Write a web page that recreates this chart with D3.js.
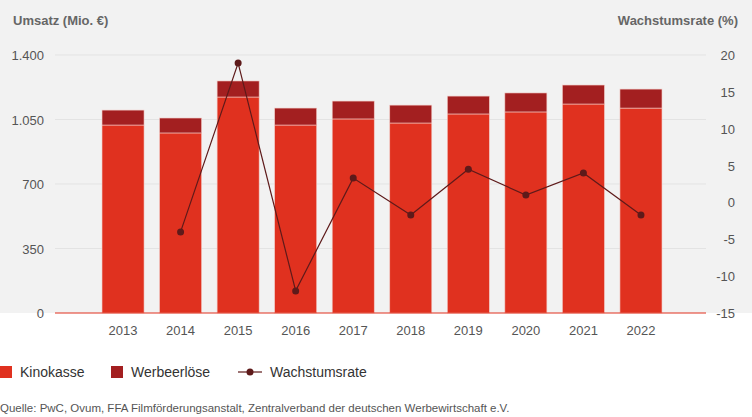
<!DOCTYPE html>
<html><head><meta charset="utf-8">
<script src="https://cdn.jsdelivr.net/npm/d3@7"></script>
<style>body{margin:0;background:#fff;font-family:Arial,"Liberation Sans",sans-serif}</style>
</head><body><div id="chart"></div>
<script>
// Daten
const years = ["2013","2014","2015","2016","2017","2018","2019","2020","2021","2022"];
const kinokasse = [1020, 977, 1172, 1020, 1053, 1031, 1080, 1091, 1134, 1112];
const werbung = [81, 81, 87, 92, 97, 97, 97, 103, 103, 103];
const wachstum = [null, -4.0, 18.9, -12.0, 3.3, -1.7, 4.5, 1.0, 4.0, -1.7];
const leftTicks = [0, 350, 700, 1050, 1400];
const rightTicks = [-15, -10, -5, 0, 5, 10, 15, 20];

const W = 752, H = 417;
const svg = d3.select("#chart").append("svg").attr("width", W).attr("height", H);
const fmt = d3.formatLocale({decimal: ",", thousands: ".", grouping: [3], currency: ["", "€"]}).format(",");

svg.append("rect").attr("width", W).attr("height", 313).attr("fill", "#f2f2f2");

const x = d3.scaleBand().domain(years).range([94.25, 669.75]).paddingInner(0.27).paddingOuter(0.135);
const y = d3.scaleLinear().domain([0, 1400]).range([313, 55]);
const y2 = d3.scaleLinear().domain([-15, 20]).range([313, 55]);

// Gitter
svg.append("g").selectAll("line").data(leftTicks.slice(1)).join("line")
  .attr("x1", 55).attr("x2", 706).attr("y1", d => y(d)).attr("y2", d => y(d))
  .attr("stroke", "#e3e3e3");

svg.append("g").selectAll("text").data(leftTicks).join("text")
  .attr("x", 44).attr("y", d => y(d) + 5).attr("text-anchor", "end")
  .attr("font-size", 13).attr("fill", "#555").text(d => fmt(d));
svg.append("g").selectAll("text").data(rightTicks).join("text")
  .attr("x", 735).attr("y", d => y2(d) + 5).attr("text-anchor", "end")
  .attr("font-size", 13).attr("fill", "#555").text(d => d);

svg.append("text").attr("x", 13).attr("y", 25).attr("font-size", 13).attr("font-weight", "bold")
  .attr("fill", "#666").text("Umsatz (Mio. €)");
svg.append("text").attr("x", 738).attr("y", 25).attr("text-anchor", "end").attr("font-size", 13)
  .attr("font-weight", "bold").attr("fill", "#666").text("Wachstumsrate (%)");

// Balken
const bars = svg.append("g");
years.forEach((yr, i) => {
  bars.append("rect").attr("x", x(yr)).attr("width", x.bandwidth())
    .attr("y", y(kinokasse[i])).attr("height", y(0) - y(kinokasse[i]))
    .attr("fill", "#e0311f").attr("stroke", "#f2c9c4").attr("stroke-width", 0.6);
  bars.append("rect").attr("x", x(yr)).attr("width", x.bandwidth())
    .attr("y", y(kinokasse[i] + werbung[i])).attr("height", y(0) - y(werbung[i]))
    .attr("fill", "#a31f20").attr("stroke", "#f2c9c4").attr("stroke-width", 0.6);
});

svg.append("line").attr("x1", 55).attr("x2", 706).attr("y1", 313).attr("y2", 313)
  .attr("stroke", "#e0311f").attr("stroke-width", 1.2);

svg.append("g").selectAll("text").data(years).join("text")
  .attr("x", d => x(d) + x.bandwidth() / 2).attr("y", 335).attr("text-anchor", "middle")
  .attr("font-size", 13).attr("fill", "#555").text(d => d);

// Linie
const pts = years.map((yr, i) => ({yr, v: wachstum[i]})).filter(d => d.v !== null);
const cx = d => x(d.yr) + x.bandwidth() / 2;
svg.append("path").datum(pts)
  .attr("d", d3.line().x(cx).y(d => y2(d.v)))
  .attr("fill", "none").attr("stroke", "#5e1a1a").attr("stroke-width", 1.2);
svg.append("g").selectAll("circle").data(pts).join("circle")
  .attr("cx", cx).attr("cy", d => y2(d.v)).attr("r", 3.5).attr("fill", "#5e1a1a");

// Legende
const lg = svg.append("g").attr("font-size", 14).attr("fill", "#333");
lg.append("rect").attr("x", 0).attr("y", 366).attr("width", 12).attr("height", 12).attr("fill", "#e0311f");
lg.append("text").attr("x", 20).attr("y", 377).text("Kinokasse");
lg.append("rect").attr("x", 111).attr("y", 366).attr("width", 12).attr("height", 12).attr("fill", "#a31f20");
lg.append("text").attr("x", 131).attr("y", 377).text("Werbeerlöse");
lg.append("line").attr("x1", 238).attr("x2", 262).attr("y1", 372).attr("y2", 372).attr("stroke", "#5e1a1a").attr("stroke-width", 1.2);
lg.append("circle").attr("cx", 250).attr("cy", 372).attr("r", 3.5).attr("fill", "#5e1a1a");
lg.append("text").attr("x", 270).attr("y", 377).text("Wachstumsrate");

svg.append("text").attr("x", 0).attr("y", 412).attr("font-size", 11.5).attr("fill", "#555")
  .text("Quelle: PwC, Ovum, FFA Filmförderungsanstalt, Zentralverband der deutschen Werbewirtschaft e.V.");
</script></body></html>
